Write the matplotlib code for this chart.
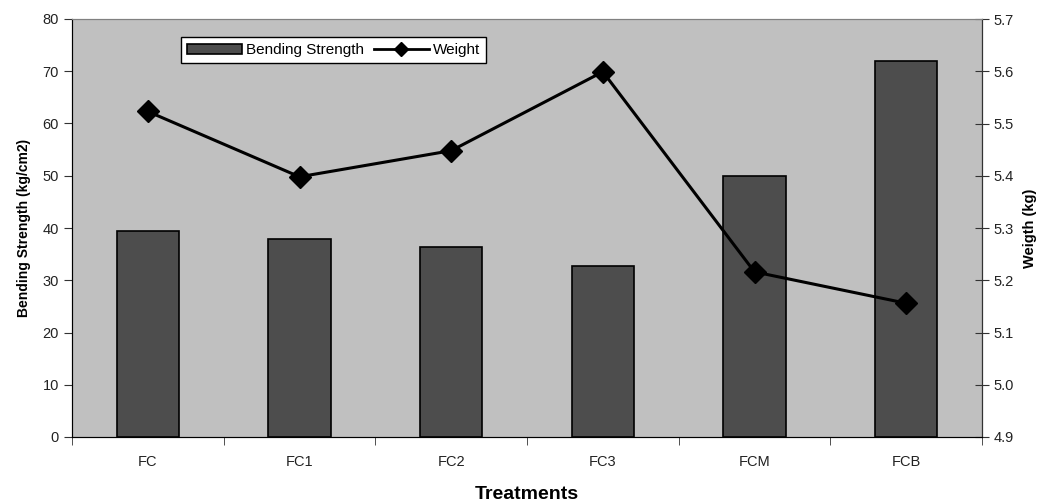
import numpy as np
import matplotlib
matplotlib.use("Agg")
import matplotlib.pyplot as plt
from matplotlib.lines import Line2D
from matplotlib.patches import Patch

# --- data ---
treatments = ["FC", "FC1", "FC2", "FC3", "FCM", "FCB"]
bending_strength = [39.5, 37.9, 36.4, 32.7, 50.0, 72.0]
weight = [5.523, 5.398, 5.448, 5.599, 5.216, 5.156]

plt.rcParams['font.family'] = ['Liberation Sans', 'DejaVu Sans']

fig = plt.figure(figsize=(10.49, 5.04), dpi=100)
ax = fig.add_axes([72 / 1049, 1 - 437 / 504, 910 / 1049, 418 / 504])
ax.set_facecolor("#C0C0C0")

x = np.arange(len(treatments))
ax.bar(x, bending_strength, width=0.41, color="#4D4D4D", edgecolor="black",
       linewidth=1.2, zorder=2)
ax.set_xlim(-0.5, len(treatments) - 0.5)
ax.set_ylim(0, 80)
ax.set_yticks(np.arange(0, 81, 10))
ax.set_xticks(x)
ax.set_xticklabels(treatments)
ax.set_xticks(np.arange(-0.5, len(treatments), 1), minor=True)
ax.tick_params(axis="x", which="major", length=0, pad=13, labelsize=10.5,
               labelcolor="#222222")
ax.tick_params(axis="x", which="minor", length=6, direction="out", color="#333333")
ax.tick_params(axis="y", length=6, direction="out", labelsize=10.5,
               color="#333333", labelcolor="#222222")

ax.spines["top"].set_color("#808080")
ax.spines["left"].set_color("#333333")
ax.spines["bottom"].set_color("#333333")

ax2 = ax.twinx()
ax2.plot(x, weight, color="black", linewidth=2.2, marker="D", markersize=11,
         zorder=3)
ax2.set_ylim(4.9, 5.7)
ax2.set_yticks(np.arange(4.9, 5.71, 0.1))
ax2.set_yticklabels([f"{v:.1f}" for v in np.arange(4.9, 5.71, 0.1)])
ax2.tick_params(axis="y", length=10, direction="inout", labelsize=10.5,
                color="#333333", labelcolor="#222222")
ax2.spines["right"].set_color("#333333")
ax2.spines["top"].set_color("#808080")

ax.set_ylabel("Bending Strength (kg/cm2)", fontsize=10, fontweight="bold", labelpad=8)
ax2.set_ylabel("Weigth (kg)", fontsize=10.5, fontweight="bold", labelpad=6)
ax.set_xlabel("Treatments", fontsize=14, fontweight="bold", labelpad=12)

handles = [Patch(facecolor="#4D4D4D", edgecolor="black", linewidth=1.2),
           Line2D([0], [0], color="black", linewidth=2, marker="D", markersize=7)]
leg = ax2.legend(handles, ["Bending Strength", "Weight"], ncol=2,
                 loc="upper left", bbox_to_anchor=(0.111, 0.975),
                 fancybox=False, framealpha=1, edgecolor="black",
                 fontsize=11, handlelength=3.6, columnspacing=0.6,
                 handletextpad=0.3, borderpad=0.4)
leg.get_frame().set_linewidth(1.0)

fig.savefig("out.png", dpi=100)
